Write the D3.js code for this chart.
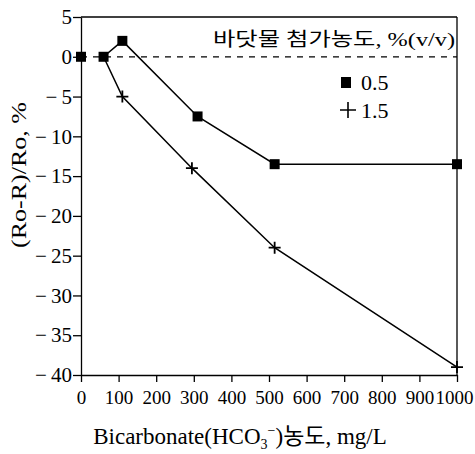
<!DOCTYPE html>
<html>
<head>
<meta charset="utf-8">
<script src="https://cdn.jsdelivr.net/npm/d3@7"></script>
<style>
  body { margin: 0; background: #fff; }
  svg text { font-family: "Liberation Serif", "Noto Sans CJK KR", serif; fill: #000; }
</style>
</head>
<body>
<div id="chart"></div>
<script>

const width = 475 ;
const height = 454 ;
const serif = "'Liberation Serif', 'Noto Sans CJK KR', serif"

// bicarbonate concentration, mg/L
const controlX = [ 0 ]
const controlY = [ 0 ]

// 0.5 % (v/v) sea water
const squareX = [ 60, 110, 310, 515, 1000 ]
const squareY = [ 0, 2, -7.5, -13.5, -13.5 ]

// 1.5 % (v/v) sea water
const plusX = [ 60, 110, 295, 515, 1000 ]
const plusY = [ 0, -5, -14, -24, -39 ]

const xTicks = [ 0, 100, 200, 300, 400, 500, 600, 700, 800, 900, 1000 ]
const yTicks = [ 5, 0, -5, -10, -15, -20, -25, -30, -35, -40 ]

const legendLabels = [ "0.5", "1.5" ]

const svg = d3.select( "#chart" ).append( "svg" )
	.attr( "width", width )
	.attr( "height", height )

const x = d3.scaleLinear().domain( [0, 1000] ).range( [81, 457] )
const y = d3.scaleLinear().domain( [-40, 5] ).range( [375, 17] )

function fmtY( d ) {
	return d < 0 ? "\u2212\u2009" + Math.abs(d) : String(d)
}

// axes
const xAxis = svg.append( "g" )
	.attr( "transform", "translate(0," + y(-40) + ")" )
	.call( d3.axisBottom(x).tickValues(xTicks).tickFormat(d3.format("d")).tickSize(7).tickSizeOuter(0).tickPadding(9) )
xAxis.attr( "font-family", serif )
xAxis.selectAll( "text" )
	.style( "font-family", serif )
	.style( "font-size", "19px" )
	.attr( "dx", function(d) { return d === 1000 ? -3 : 0 } )

const yAxis = svg.append( "g" )
	.attr( "transform", "translate(" + x(0) + ",0)" )
	.call( d3.axisLeft(y).tickValues(yTicks).tickSize(8).tickSizeOuter(0).tickPadding(1).tickFormat(fmtY) )
yAxis.attr( "font-family", serif )
yAxis.selectAll( "text" )
	.style( "font-family", serif )
	.style( "font-size", "21px" )

svg.selectAll( ".domain, .tick line" ).attr( "stroke", "#000" ).attr( "stroke-width", 1.3 )

// frame top and right
svg.append( "line" )
	.attr( "x1", x(0) ).attr( "x2", x(1000) )
	.attr( "y1", y(5) ).attr( "y2", y(5) )
	.attr( "stroke", "#000" ).attr( "stroke-width", 1.3 )
svg.append( "line" )
	.attr( "x1", x(1000) ).attr( "x2", x(1000) )
	.attr( "y1", y(5) ).attr( "y2", y(-40) )
	.attr( "stroke", "#000" ).attr( "stroke-width", 1.3 )

// zero reference
svg.append( "line" )
	.attr( "x1", x(0) ).attr( "x2", x(1000) )
	.attr( "y1", y(0) ).attr( "y2", y(0) )
	.attr( "stroke", "#000" ).attr( "stroke-width", 1.3 )
	.attr( "stroke-dasharray", "6,6" )

// series lines
const squarePts = squareX.map( function(d, i) { return [ d, squareY[i] ] } )
const plusPts = plusX.map( function(d, i) { return [ d, plusY[i] ] } )

const line = d3.line()
	.x( function(d) { return x(d[0]) } )
	.y( function(d) { return y(d[1]) } )

svg.append( "path" ).attr( "d", line(squarePts) )
	.attr( "fill", "none" ).attr( "stroke", "#000" ).attr( "stroke-width", 1.5 )
svg.append( "path" ).attr( "d", line(plusPts) )
	.attr( "fill", "none" ).attr( "stroke", "#000" ).attr( "stroke-width", 1.5 )

// markers
const sq = 10
const ctrlPts = controlX.map( function(d, i) { return [ d, controlY[i] ] } )
svg.selectAll( "rect.sq" )
	.data( ctrlPts.concat(squarePts) )
	.enter().append( "rect" )
		.attr( "class", "sq" )
		.attr( "x", function(d) { return x(d[0]) - sq/2 } )
		.attr( "y", function(d) { return y(d[1]) - sq/2 } )
		.attr( "width", sq ).attr( "height", sq )
		.attr( "fill", "#000" )

const pl = 6
svg.selectAll( "path.plus" )
	.data( plusPts.slice(1) )
	.enter().append( "path" )
		.attr( "class", "plus" )
		.attr( "d", function(d) {
			const cx = x(d[0]), cy = y(d[1])
			return "M" + (cx-pl) + "," + cy + "H" + (cx+pl) + "M" + cx + "," + (cy-pl) + "V" + (cy+pl)
		} )
		.attr( "stroke", "#000" ).attr( "stroke-width", 1.8 )

// legend
svg.append( "text" )
	.attr( "x", 213 ).attr( "y", 46 )
	.attr( "textLength", 242 ).attr( "lengthAdjust", "spacingAndGlyphs" )
	.style( "font-size", "19px" )
	.text( "바닷물 첨가농도, %(v/v)" )

svg.append( "rect" )
	.attr( "x", 341 ).attr( "y", 77 ).attr( "width", 10 ).attr( "height", 11 )
	.attr( "fill", "#000" )
svg.append( "text" ).attr( "x", 361 ).attr( "y", 90 )
	.style( "font-size", "22px" ).text( legendLabels[0] )

svg.append( "path" )
	.attr( "d", "M340,110H356M348,102V118" )
	.attr( "stroke", "#000" ).attr( "stroke-width", 1.6 )
svg.append( "text" ).attr( "x", 361 ).attr( "y", 118 )
	.style( "font-size", "22px" ).text( legendLabels[1] )

// axis titles
const xt = svg.append( "text" )
	.attr( "x", 240 ).attr( "y", 444 )
	.attr( "text-anchor", "middle" )
	.style( "font-size", "23px" )
xt.append( "tspan" ).text( "Bicarbonate(HCO" )
xt.append( "tspan" ).attr( "dy", 5 ).style( "font-size", "14px" ).text( "3" )
xt.append( "tspan" ).attr( "dy", -14 ).style( "font-size", "14px" ).text( "\u2212" )
xt.append( "tspan" ).attr( "dy", 9 ).text( ")농도, mg/L" )

svg.append( "text" )
	.attr( "transform", "translate(26,175) rotate(-90)" )
	.attr( "text-anchor", "middle" )
	.attr( "textLength", 146 ).attr( "lengthAdjust", "spacingAndGlyphs" )
	.style( "font-size", "22px" )
	.text( "(Ro-R)/Ro, %" )

</script>
</body>
</html>
